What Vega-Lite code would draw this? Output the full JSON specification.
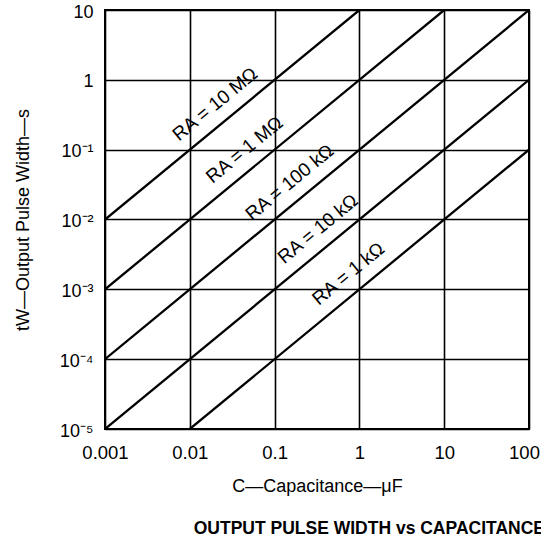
{
  "$schema": "https://vega.github.io/schema/vega-lite/v6.json",
  "width": 424,
  "height": 419,
  "autosize": {"type": "none"},
  "padding": {"left": 105, "top": 10, "right": 12, "bottom": 117},
  "background": "white",
  "config": {
    "view": {"stroke": "black", "strokeWidth": 2},
    "font": "Liberation Sans"
  },
  "title": {
    "text": "OUTPUT PULSE WIDTH vs CAPACITANCE",
    "orient": "bottom",
    "anchor": "end",
    "frame": "group",
    "dx": 16,
    "offset": 24,
    "font": "Liberation Sans",
    "fontSize": 17.5,
    "fontWeight": "bold",
    "color": "black"
  },
  "datasets": {
    "lines": [
      {"RA": "1k", "C": 0.01, "t": 0.00001},
      {"RA": "1k", "C": 100, "t": 0.1},
      {"RA": "10k", "C": 0.001, "t": 0.00001},
      {"RA": "10k", "C": 100, "t": 1},
      {"RA": "100k", "C": 0.001, "t": 0.0001},
      {"RA": "100k", "C": 100, "t": 10},
      {"RA": "1M", "C": 0.001, "t": 0.001},
      {"RA": "1M", "C": 10, "t": 10},
      {"RA": "10M", "C": 0.001, "t": 0.01},
      {"RA": "10M", "C": 1, "t": 10}
    ],
    "labels": [
      {"label": "RA = 10 MΩ", "C": 0.0276, "t": 0.276},
      {"label": "RA = 1 MΩ", "C": 0.0615, "t": 0.0615},
      {"label": "RA = 100 kΩ", "C": 0.209, "t": 0.0209},
      {"label": "RA = 10 kΩ", "C": 0.45, "t": 0.0045},
      {"label": "RA = 1 kΩ", "C": 1.03, "t": 0.00103}
    ]
  },
  "layer": [
    {
      "data": {"name": "lines"},
      "mark": {"type": "line", "color": "black", "strokeWidth": 2.3, "clip": true},
      "encoding": {
        "x": {
          "field": "C",
          "type": "quantitative",
          "scale": {"type": "log", "domain": [0.001, 100], "nice": false},
          "axis": {
            "values": [0.001, 0.01, 0.1, 1, 10, 100],
            "format": "~g",
            "title": "C—Capacitance—μF",
            "titleFont": "Liberation Sans",
            "titleFontSize": 18,
            "titleFontWeight": "normal",
            "titleColor": "black",
            "titlePadding": 16,
            "labelFont": "Liberation Sans",
            "labelFontSize": 18.5,
            "labelColor": "black",
            "labelPadding": 14,
            "labelFlush": false,
            "labelOffset": {"condition": {"test": "datum.value == 100", "value": -5}, "value": 0},
            "ticks": false,
            "domain": false,
            "grid": true,
            "gridColor": "black",
            "gridWidth": 1.6,
            "gridOpacity": 1
          }
        },
        "y": {
          "field": "t",
          "type": "quantitative",
          "scale": {"type": "log", "domain": [0.00001, 10], "nice": false},
          "axis": {
            "values": [0.00001, 0.0001, 0.001, 0.01, 0.1, 1, 10],
            "labelExpr": "datum.value >= 5 ? '10' : datum.value >= 0.5 ? '1' : '10⁻' + ['','¹','²','³','⁴','⁵'][round(-log(datum.value)/LN10)]",
            "title": "tW—Output Pulse Width—s",
            "titleFont": "Liberation Sans",
            "titleFontSize": 18,
            "titleFontWeight": "normal",
            "titleColor": "black",
            "titlePadding": 27,
            "labelFont": "Liberation Sans",
            "labelFontSize": 18,
            "labelColor": "black",
            "labelPadding": 12,
            "labelOffset": 2,
            "labelFlush": false,
            "ticks": false,
            "domain": false,
            "grid": true,
            "gridColor": "black",
            "gridWidth": 1.6,
            "gridOpacity": 1
          }
        },
        "detail": {"field": "RA"}
      }
    },
    {
      "data": {"name": "labels"},
      "mark": {
        "type": "text",
        "angle": 320.5,
        "align": "center",
        "baseline": "middle",
        "dy": -19,
        "font": "Liberation Sans",
        "fontSize": 19,
        "color": "black"
      },
      "encoding": {
        "x": {"field": "C", "type": "quantitative"},
        "y": {"field": "t", "type": "quantitative"},
        "text": {"field": "label"}
      }
    }
  ]
}
